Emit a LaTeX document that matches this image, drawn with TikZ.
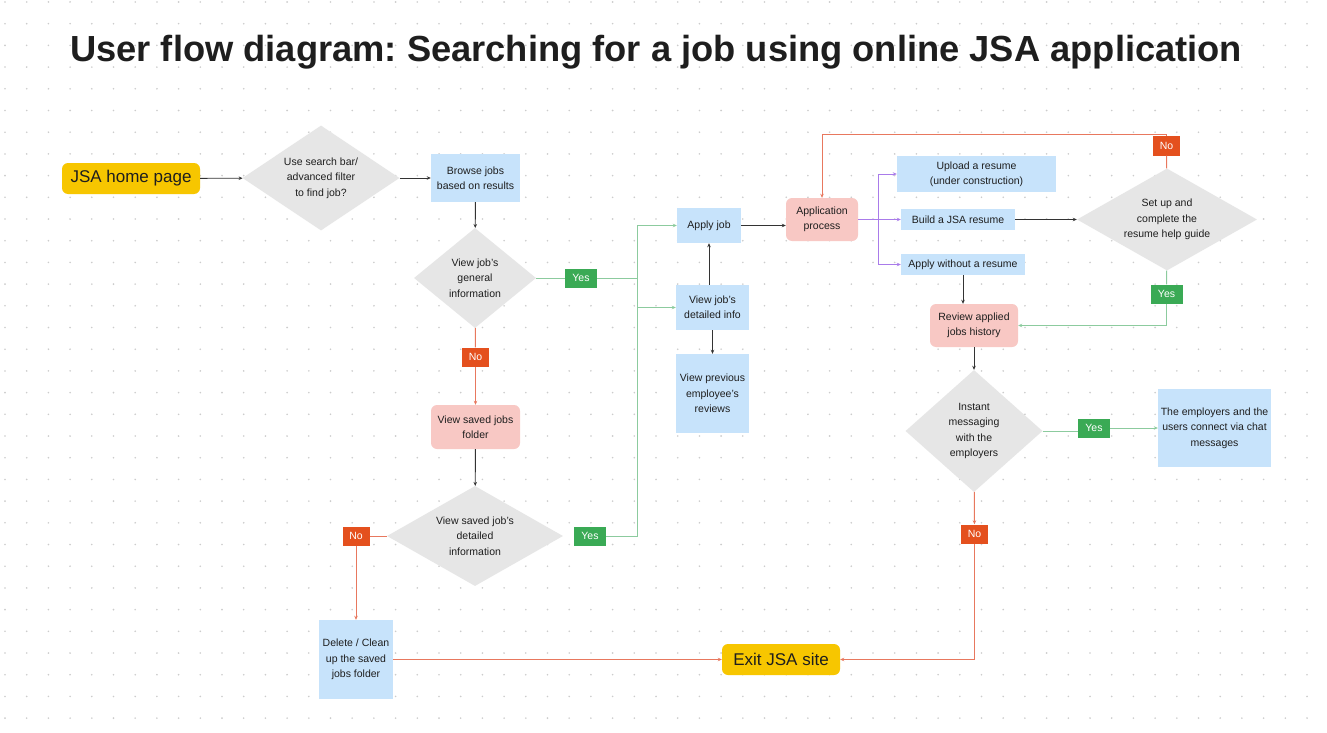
\documentclass[tikz,border=0pt]{standalone}
\usepackage{fontspec}
\setmainfont{Liberation Sans}
\usepackage{xcolor}
\usetikzlibrary{arrows.meta,shapes.geometric,calc}
\definecolor{jsayellow}{HTML}{F7C600}
\definecolor{jsablue}{HTML}{C7E3FB}
\definecolor{jsapink}{HTML}{F8C8C4}
\definecolor{jsagray}{HTML}{E6E6E6}
\definecolor{jsared}{HTML}{E4501E}
\definecolor{jsagreen}{HTML}{3AAA55}
\definecolor{jsanoline}{HTML}{E8785E}
\definecolor{jsayesline}{HTML}{8CCB9E}
\definecolor{jsapurple}{HTML}{A97BEA}
\definecolor{jsadark}{HTML}{333333}
\definecolor{jsatext}{HTML}{1E1E1E}
\definecolor{jsadot}{HTML}{CCCCCC}
\newcommand{\jsafont}{\fontsize{10.5}{15.3}\selectfont}
\frenchspacing

\begin{document}
\begin{tikzpicture}[x=1pt,y=-1pt,
  bluebox/.style={fill=jsablue,inner sep=0pt,align=center,font=\jsafont,text=jsatext},
  pinkbox/.style={fill=jsapink,rounded corners=6pt,inner sep=0pt,align=center,font=\jsafont,text=jsatext},
  endbox/.style={fill=jsayellow,rounded corners=6pt,inner sep=0pt,font=\fontsize{17}{20}\selectfont,text=jsatext},
  decision/.style={diamond,fill=jsagray,inner sep=0pt,align=center,font=\jsafont,text=jsatext},
  notag/.style={fill=jsared,text=white,inner sep=0pt,minimum width=27pt,minimum height=19pt,font=\jsafont},
  yestag/.style={fill=jsagreen,text=white,inner sep=0pt,minimum width=32pt,minimum height=19pt,font=\jsafont},
  tip/.style={-{Stealth[length=4pt,width=3.5pt]}},
  flow/.style={draw=jsadark,line width=0.9pt,tip},
  noline/.style={draw=jsanoline,line width=0.9pt},
  yesline/.style={draw=jsayesline,line width=0.9pt},
  resline/.style={draw=jsapurple,line width=0.9pt}]

  % canvas and dot grid
  \fill[white] (0,0) rectangle (1327,733);
  \useasboundingbox (0,0) rectangle (1327,733);
  \foreach \i in {0,...,60}
    \foreach \j in {0,...,33}
      \fill[jsadot] ({5+\i*21.7},{2+\j*21.7}) circle (0.9pt);

  \node[anchor=base west,inner sep=0pt,font=\fontsize{36.3}{40}\selectfont\bfseries,text=jsatext] (title) at (70,61.5)
    {User flow diagram: Searching for a job using online JSA application};

  % left column
  \node[endbox,minimum width=138pt,minimum height=31pt] (home) at (131,178.5) {JSA home page};
  \node[decision,aspect=1.5,minimum width=157pt,minimum height=105pt] (search) at (321,178) {Use search bar/\\advanced filter\\to find job?};
  \node[bluebox,minimum width=89pt,minimum height=48pt] (browse) at (475.5,178) {Browse jobs\\based on results};
  \node[decision,aspect=1.2,minimum width=122pt,minimum height=100pt] (general) at (475,278) {View job's\\general\\information};
  \node[notag] (nogeneral) at (475.5,357) {No};
  \node[yestag] (yesgeneral) at (581,278) {Yes};
  \node[pinkbox,minimum width=89pt,minimum height=44pt] (saved) at (475.5,427) {View saved jobs\\folder};
  \node[decision,aspect=1.76,minimum width=176pt,minimum height=100pt] (savedinfo) at (475,536) {View saved job's\\detailed\\information};
  \node[notag] (nosaved) at (356,536) {No};
  \node[yestag] (yessaved) at (590,536) {Yes};
  \node[bluebox,minimum width=74pt,minimum height=79pt] (cleanup) at (356,659.5) {Delete / Clean\\up the saved\\jobs folder};
  \node[endbox,minimum width=118pt,minimum height=31pt] (exit) at (781,659.5) {Exit JSA site};

  % middle column
  \node[bluebox,minimum width=64pt,minimum height=35pt] (apply) at (709,225.5) {Apply job};
  \node[bluebox,minimum width=73pt,minimum height=45pt] (detail) at (712.5,307.5) {View job's\\detailed info};
  \node[bluebox,minimum width=73pt,minimum height=79pt] (reviews) at (712.5,393.5) {View previous\\employee's\\reviews};
  \node[pinkbox,minimum width=72pt,minimum height=43pt] (process) at (822,219.5) {Application\\process};

  % right column
  \node[bluebox,minimum width=159pt,minimum height=36pt] (upload) at (976.5,174) {Upload a resume\\(under construction)};
  \node[bluebox,minimum width=114pt,minimum height=21pt] (build) at (958,219.5) {Build a JSA resume};
  \node[bluebox,minimum width=124pt,minimum height=21pt] (noresume) at (963,264.5) {Apply without a resume};
  \node[decision,aspect=1.76,minimum width=180pt,minimum height=102pt] (guide) at (1167,219.5) {Set up and\\complete the\\resume help guide};
  \node[notag] (noguide) at (1166.5,146) {No};
  \node[yestag] (yesguide) at (1166.5,294) {Yes};
  \node[pinkbox,minimum width=88pt,minimum height=43pt] (history) at (974,325.5) {Review applied\\jobs history};
  \node[decision,aspect=1.12,minimum width=137pt,minimum height=122pt] (chatq) at (974,431) {Instant\\messaging\\with the\\employers};
  \node[yestag] (yeschat) at (1094,428) {Yes};
  \node[bluebox,minimum width=113pt,minimum height=78pt] (chat) at (1214.5,428) {The employers and the\\users connect via chat\\messages};
  \node[notag] (nochat) at (974.5,534) {No};

  \coordinate (greenbus) at (637,278);
  \coordinate (purplebus) at (878,219.5);
  \coordinate (looptop) at (1166.5,134);

  % connectors
  \draw[flow] (home) -- (search);
  \draw[flow] (search) -- (browse);
  \draw[flow] (browse) -- (general);
  \draw[noline] (general) -- (nogeneral);
  \draw[noline,tip] (nogeneral) -- (saved);
  \draw[flow] (saved) -- (savedinfo);
  \draw[noline] (savedinfo) -- (nosaved);
  \draw[noline,tip] (nosaved) -- (cleanup);
  \draw[noline,tip] (cleanup) -- (exit);
  \draw[yesline] (general) -- (yesgeneral);
  \draw[yesline] (yesgeneral) -- (greenbus);
  \draw[yesline] (yessaved) -| (greenbus);
  \draw[yesline,tip] (greenbus) |- (apply);
  \draw[yesline,tip] (greenbus) |- (detail);
  \draw[flow] (apply.south |- detail.north) -- (apply.south);
  \draw[flow] (detail) -- (reviews);
  \draw[flow] (apply.east) -- (apply.east -| process.west);
  \draw[resline] (process) -- (purplebus);
  \draw[resline,tip] (purplebus) |- (upload);
  \draw[resline,tip] (purplebus) -- (build);
  \draw[resline,tip] (purplebus) |- (noresume);
  \draw[flow] (build) -- (guide);
  \draw[noline] (guide) -- (noguide);
  \draw[noline,tip] (noguide) -- (looptop) -| (process);
  \draw[yesline] (guide) -- (yesguide);
  \draw[yesline,tip] (yesguide) |- (history);
  \draw[flow] (noresume.south) -- (noresume.south |- history.north);
  \draw[flow] (history) -- (chatq);
  \draw[yesline] (chatq) -- (chatq -| yeschat.west);
  \draw[yesline,tip] (yeschat) -- (chat);
  \draw[noline,tip] (chatq) -- (nochat);
  \draw[noline,tip] (nochat) |- (exit);
\end{tikzpicture}
\end{document}
